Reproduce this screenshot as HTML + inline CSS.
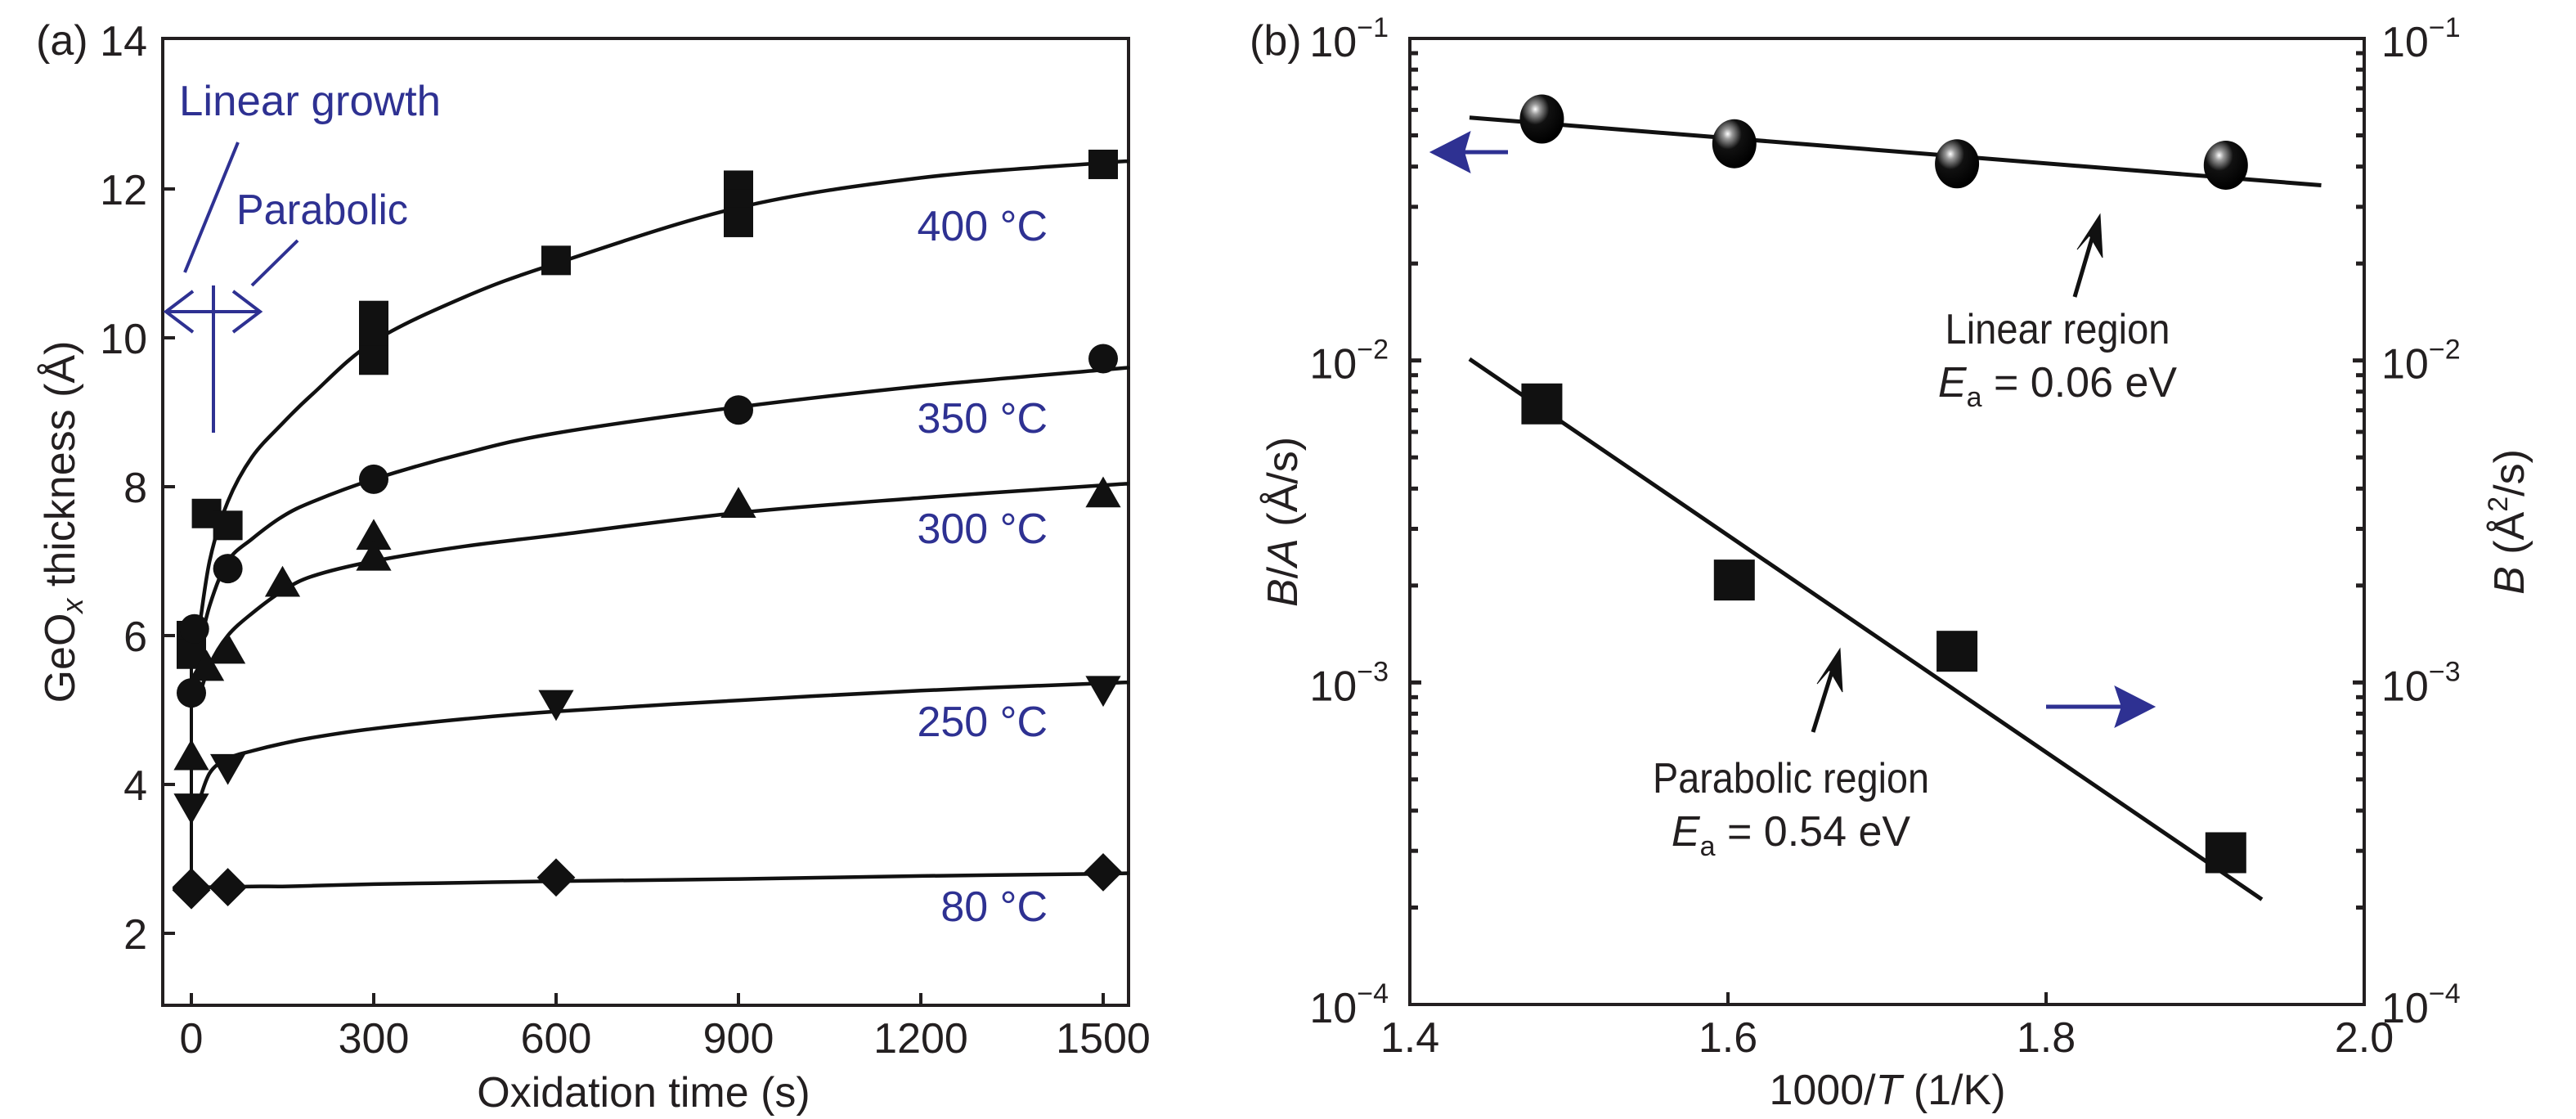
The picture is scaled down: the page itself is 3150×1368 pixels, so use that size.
<!DOCTYPE html>
<html><head><meta charset="utf-8"><style>
html,body{margin:0;padding:0;background:#fff}
svg{display:block;font-family:"Liberation Sans",sans-serif}
</style></head><body>
<svg id="fig" width="3150" height="1368" viewBox="0 0 3150 1368" xmlns="http://www.w3.org/2000/svg">
<g id="pa"></g>
<g id="pb"></g>
</svg>
<script>
// ---------- Panel (a) data ----------
const aXTicks = [0, 300, 600, 900, 1200, 1500];
const aYTicks = [2, 4, 6, 8, 10, 12, 14];
const aSeriesNames = ["400 °C", "350 °C", "300 °C", "250 °C", "80 °C"];
const aMarkers = ["square", "circle", "triangle", "tridown", "diamond"];
const t400 = [0, 0, 25, 60, 300, 300, 300, 600, 900, 900, 900, 1500];
const y400 = [6.0, 5.75, 7.64, 7.48, 10.3, 10.0, 9.7, 11.04, 12.05, 11.8, 11.55, 12.33];
const t350 = [0, 5, 60, 300, 900, 1500];
const y350 = [5.23, 6.09, 6.9, 8.1, 9.03, 9.72];
const t300 = [0, 25, 60, 150, 300, 300, 900, 1500];
const y300 = [4.37, 5.57, 5.8, 6.7, 7.33, 7.05, 7.76, 7.9];
const t250 = [0, 60, 600, 1500];
const y250 = [3.7, 4.23, 5.09, 5.28];
const t80 = [0, 0, 0, 60, 600, 1500];
const y80 = [2.6, 2.62, 2.58, 2.62, 2.75, 2.82];
const fitT = [10, 30, 60, 100, 150, 200, 300, 450, 600, 900, 1200, 1500, 1542];
const fit400 = [5.9, 7.0, 7.8, 8.4, 8.85, 9.25, 9.95, 10.55, 11.0, 11.75, 12.15, 12.35, 12.37];
const fit350 = [5.7, 6.4, 7.0, 7.3, 7.6, 7.8, 8.1, 8.45, 8.72, 9.07, 9.35, 9.57, 9.6];
const fit300 = [5.1, 5.6, 6.0, 6.3, 6.6, 6.8, 7.0, 7.2, 7.35, 7.65, 7.85, 8.02, 8.04];
const fit250 = [3.7, 4.15, 4.35, 4.45, 4.55, 4.63, 4.75, 4.88, 4.98, 5.13, 5.26, 5.36, 5.37];
const fit80 = [2.62, 2.62, 2.62, 2.63, 2.63, 2.64, 2.66, 2.68, 2.7, 2.73, 2.77, 2.8, 2.81];

// ---------- Panel (b) data ----------
const bXTicks = [1.4, 1.6, 1.8, 2.0];
const bDecades = [-1, -2, -3, -4];
const bXLin = [1.483, 1.604, 1.744, 1.913];
const bYLin = [0.0562, 0.0471, 0.0408, 0.0404];
const bXPar = [1.483, 1.604, 1.744, 1.913];
const bYPar = [0.00733, 0.00208, 0.00125, 0.000296];
const fitLinX = [1.4375, 1.973];
const fitLinY = [0.0568, 0.0350];
const fitParX = [1.4375, 1.9357];
const fitParY = [0.0101, 0.000212];

const NS = "http://www.w3.org/2000/svg";
function mk(tag, attrs, parent, text){
  const e = document.createElementNS(NS, tag);
  for (const k in attrs) e.setAttribute(k, attrs[k]);
  if (text !== undefined) e.textContent = text;
  parent.appendChild(e); return e;
}
const BLUE = "#2e3192", INK = "#231f20", FS = 52;

function smoothPath(pts){
  let d = "M" + pts[0][0].toFixed(1) + "," + pts[0][1].toFixed(1);
  for (let i = 0; i < pts.length - 1; i++) {
    const p0 = pts[Math.max(0, i-1)], p1 = pts[i], p2 = pts[i+1], p3 = pts[Math.min(pts.length-1, i+2)];
    const c1x = p1[0] + (p2[0]-p0[0])/6, c1y = p1[1] + (p2[1]-p0[1])/6;
    const c2x = p2[0] - (p3[0]-p1[0])/6, c2y = p2[1] - (p3[1]-p1[1])/6;
    d += "C" + [c1x,c1y,c2x,c2y,p2[0],p2[1]].map(v=>v.toFixed(1)).join(",");
  }
  return d;
}

// ===== Panel a =====
const pa = document.getElementById("pa");
const aL = 199, aR = 1380, aT = 47, aB = 1229;
const ax = t => 234 + t * (1115 / 1500);
const ay = v => 1141 - (v - 2) * 91;

let f = mk("rect", {x:aL, y:aT, width:aR-aL, height:aB-aT, fill:"none", stroke:INK, "stroke-width":4}, pa);


aXTicks.forEach(t => {
  const l = mk("line", {x1:ax(t), x2:ax(t), y1:aB, y2:aB-15, stroke:INK, "stroke-width":4}, pa);
  
  
  const tx = mk("text", {x:ax(t), y:1287, "font-size":FS, "text-anchor":"middle", fill:INK}, pa, String(t));
  
  
});
aYTicks.forEach(v => {
  if (v < 14) {
    const l = mk("line", {x1:aL, x2:aL+15, y1:ay(v), y2:ay(v), stroke:INK, "stroke-width":4}, pa);
    
    
  }
  const tx = mk("text", {x:180, y:ay(v)+19, "font-size":FS, "text-anchor":"end", fill:INK}, pa, String(v));
  
  
});
let tt = mk("text", {x:787, y:1353, "font-size":FS, "text-anchor":"middle", fill:INK}, pa, "Oxidation time (s)");


tt = mk("text", {x:0, y:0, "font-size":FS, "text-anchor":"middle", fill:INK, transform:"translate(91,638) rotate(-90)"}, pa);


tt.innerHTML = 'GeO<tspan font-style="italic" font-size="36" dy="10">x</tspan><tspan dy="-10"> thickness (Å)</tspan>';
tt = mk("text", {x:44, y:67, "font-size":FS, fill:INK}, pa, "(a)");



// fits
const fits = [fit400, fit350, fit300, fit250, fit80];
fits.forEach((arr, i) => {
  const pts = fitT.map((t, j) => [ax(t), ay(arr[j])]);
  const p = mk("path", {d:smoothPath(pts), fill:"none", stroke:"#111", "stroke-width":4.5, "stroke-linejoin":"round"}, pa);
  
  
});
let vl = mk("line", {x1:ax(0), x2:ax(0), y1:ay(2.6), y2:ay(6.0), stroke:"#111", "stroke-width":4}, pa);



function marker(kind, cx, cy, s, parent, name){
  let e;
  if (kind === "square") e = mk("rect", {x:cx-s/2, y:cy-s/2, width:s, height:s, fill:"#111"}, parent);
  else if (kind === "circle") e = mk("circle", {cx, cy, r:s/2, fill:"#111"}, parent);
  else if (kind === "triangle") e = mk("polygon", {points:`${cx},${cy-s*0.6} ${cx+s*0.6},${cy+s*0.45} ${cx-s*0.6},${cy+s*0.45}`, fill:"#111"}, parent);
  else if (kind === "tridown") e = mk("polygon", {points:`${cx},${cy+s*0.6} ${cx+s*0.6},${cy-s*0.45} ${cx-s*0.6},${cy-s*0.45}`, fill:"#111"}, parent);
  else e = mk("polygon", {points:`${cx},${cy-s*0.65} ${cx+s*0.65},${cy} ${cx},${cy+s*0.65} ${cx-s*0.65},${cy}`, fill:"#111"}, parent);
  
  
}
const aTs = [t400, t350, t300, t250, t80], aYs = [y400, y350, y300, y250, y80];
aTs.forEach((ts, i) => {
  ts.forEach((t, j) => marker(aMarkers[i], ax(t), ay(aYs[i][j]), 36, pa, 'point-' + aSeriesNames[i].split(" ")[0]));
});
const labY = [294, 529, 664, 900, 1126];
aSeriesNames.forEach((n, i) => {
  const tx = mk("text", {x:1281, y:labY[i], "font-size":FS, "text-anchor":"end", fill:BLUE}, pa, n);
  
  
});
tt = mk("text", {x:219, y:141, "font-size":FS, fill:BLUE, textLength:320, lengthAdjust:"spacingAndGlyphs"}, pa, "Linear growth");


tt = mk("text", {x:289, y:274, "font-size":FS, fill:BLUE, textLength:210, lengthAdjust:"spacingAndGlyphs"}, pa, "Parabolic");


const ann = mk("g", {stroke:BLUE, "stroke-width":4, fill:"none"}, pa);


mk("line", {x1:291, y1:174, x2:226, y2:333}, ann);
mk("line", {x1:364, y1:294, x2:308, y2:349}, ann);
mk("line", {x1:203, y1:381, x2:318, y2:381}, ann);
mk("line", {x1:261, y1:349, x2:261, y2:529}, ann);
mk("polyline", {points:"236,356 203,381 236,406"}, ann);
mk("polyline", {points:"285,356 318,381 285,406"}, ann);

// ===== Panel b =====
const pb = document.getElementById("pb");
const bL = 1724, bR = 2891, bT = 47, bB = 1228;
const bx = v => bL + (v - 1.4) * (bR - bL) / 0.6;
const by = v => bT + (-1 - Math.log10(v)) * (bB - bT) / 3;

f = mk("rect", {x:bL, y:bT, width:bR-bL, height:bB-bT, fill:"none", stroke:INK, "stroke-width":4}, pb);


bXTicks.forEach(v => {
  if (v > 1.4 && v < 2.0) {
    const l = mk("line", {x1:bx(v), x2:bx(v), y1:bB, y2:bB-15, stroke:INK, "stroke-width":4}, pb);
    
    
  }
  const tx = mk("text", {x:bx(v), y:1286, "font-size":FS, "text-anchor":"middle", fill:INK}, pb, v.toFixed(1));
  
  
});
bDecades.forEach(d => {
  const y = by(Math.pow(10, d));
  [[bL, 1], [bR, -1]].forEach(([x0, s]) => {
    if (d > -4 && d < -1) {
      const l = mk("line", {x1:x0, x2:x0+s*14, y1:y, y2:y, stroke:INK, "stroke-width":5}, pb);
      
      
    }
    if (d > -4) {
      for (let m = 2; m <= 9; m++) {
        const ym = by(m * Math.pow(10, d - 1));
        const l = mk("line", {x1:x0, x2:x0+s*10, y1:ym, y2:ym, stroke:INK, "stroke-width":5}, pb);
        
        
      }
    }
  });
  const lt = mk("text", {x:1698, y:y+22, "font-size":FS, "text-anchor":"end", fill:INK}, pb);
  
  
  lt.innerHTML = '10<tspan font-size="34" dy="-24">−' + (-d) + '</tspan>';
  const rt = mk("text", {x:2912, y:y+22, "font-size":FS, fill:INK}, pb);
  
  
  rt.innerHTML = '10<tspan font-size="34" dy="-24">−' + (-d) + '</tspan>';
});
tt = mk("text", {x:2308, y:1350, "font-size":FS, "text-anchor":"middle", fill:INK}, pb);


tt.innerHTML = '1000/<tspan font-style="italic">T</tspan> (1/K)';
tt = mk("text", {x:0, y:0, "font-size":FS, "text-anchor":"middle", fill:INK, transform:"translate(1586,638) rotate(-90)"}, pb);


tt.innerHTML = '<tspan font-style="italic">B</tspan>/<tspan font-style="italic">A</tspan> (Å/s)';
tt = mk("text", {x:0, y:0, "font-size":FS, "text-anchor":"middle", fill:INK, transform:"translate(3086,638) rotate(-90)"}, pb);


tt.innerHTML = '<tspan font-style="italic">B</tspan> (Å<tspan font-size="34" dy="-20">2</tspan><tspan dy="20">/s)</tspan>';
tt = mk("text", {x:1528, y:67, "font-size":FS, fill:INK}, pb, "(b)");



let fl = mk("line", {x1:bx(fitLinX[0]), y1:by(fitLinY[0]), x2:bx(fitLinX[1]), y2:by(fitLinY[1]), stroke:"#111", "stroke-width":5}, pb);


fl = mk("line", {x1:bx(fitParX[0]), y1:by(fitParY[0]), x2:bx(fitParX[1]), y2:by(fitParY[1]), stroke:"#111", "stroke-width":5}, pb);



const defs = mk("defs", {}, pb);
const rg = mk("radialGradient", {id:"ball", cx:"0.35", cy:"0.3", r:"0.7"}, defs);
mk("stop", {offset:"0", "stop-color":"#fff"}, rg);
mk("stop", {offset:"0.15", "stop-color":"#999"}, rg);
mk("stop", {offset:"0.45", "stop-color":"#111"}, rg);
mk("stop", {offset:"1", "stop-color":"#000"}, rg);
bXLin.forEach((x, i) => {
  const c = mk("ellipse", {cx:bx(x), cy:by(bYLin[i]), rx:27, ry:30, fill:"url(#ball)"}, pb);
  
  
});
bXPar.forEach((x, i) => {
  const r = mk("rect", {x:bx(x)-25, y:by(bYPar[i])-25, width:50, height:50, fill:"#111"}, pb);
  
  
});

// arrows
let ar = mk("g", {fill:BLUE, stroke:BLUE, "stroke-width":5}, pb);


mk("line", {x1:1790, y1:186, x2:1844, y2:186}, ar);
mk("polygon", {points:"1750,186 1797,162 1790,186 1797,210", "stroke-width":2}, ar);
ar = mk("g", {fill:BLUE, stroke:BLUE, "stroke-width":5}, pb);


mk("line", {x1:2502, y1:864, x2:2595, y2:864}, ar);
mk("polygon", {points:"2634,864 2587,840 2595,864 2587,888", "stroke-width":2}, ar);
ar = mk("g", {fill:"#111", stroke:"#111", "stroke-width":5}, pb);


mk("line", {x1:2537, y1:363, x2:2560, y2:285}, ar);
mk("polygon", {points:"2568,262 2571,315 2555,288 2540,305", "stroke-width":1}, ar);
ar = mk("g", {fill:"#111", stroke:"#111", "stroke-width":5}, pb);


mk("line", {x1:2217, y1:895, x2:2242, y2:815}, ar);
mk("polygon", {points:"2250,793 2253,846 2237,819 2222,836", "stroke-width":1}, ar);

tt = mk("text", {x:2516, y:420, "font-size":FS, "text-anchor":"middle", fill:INK, textLength:275, lengthAdjust:"spacingAndGlyphs"}, pb, "Linear region");


tt = mk("text", {x:2516, y:485, "font-size":FS, "text-anchor":"middle", fill:INK}, pb);


tt.innerHTML = '<tspan font-style="italic">E</tspan><tspan font-size="34" dy="12">a</tspan><tspan dy="-12"> = 0.06 eV</tspan>';
tt = mk("text", {x:2190, y:969, "font-size":FS, "text-anchor":"middle", fill:INK, textLength:338, lengthAdjust:"spacingAndGlyphs"}, pb, "Parabolic region");


tt = mk("text", {x:2190, y:1034, "font-size":FS, "text-anchor":"middle", fill:INK}, pb);


tt.innerHTML = '<tspan font-style="italic">E</tspan><tspan font-size="34" dy="12">a</tspan><tspan dy="-12"> = 0.54 eV</tspan>';
</script>
</body></html>
